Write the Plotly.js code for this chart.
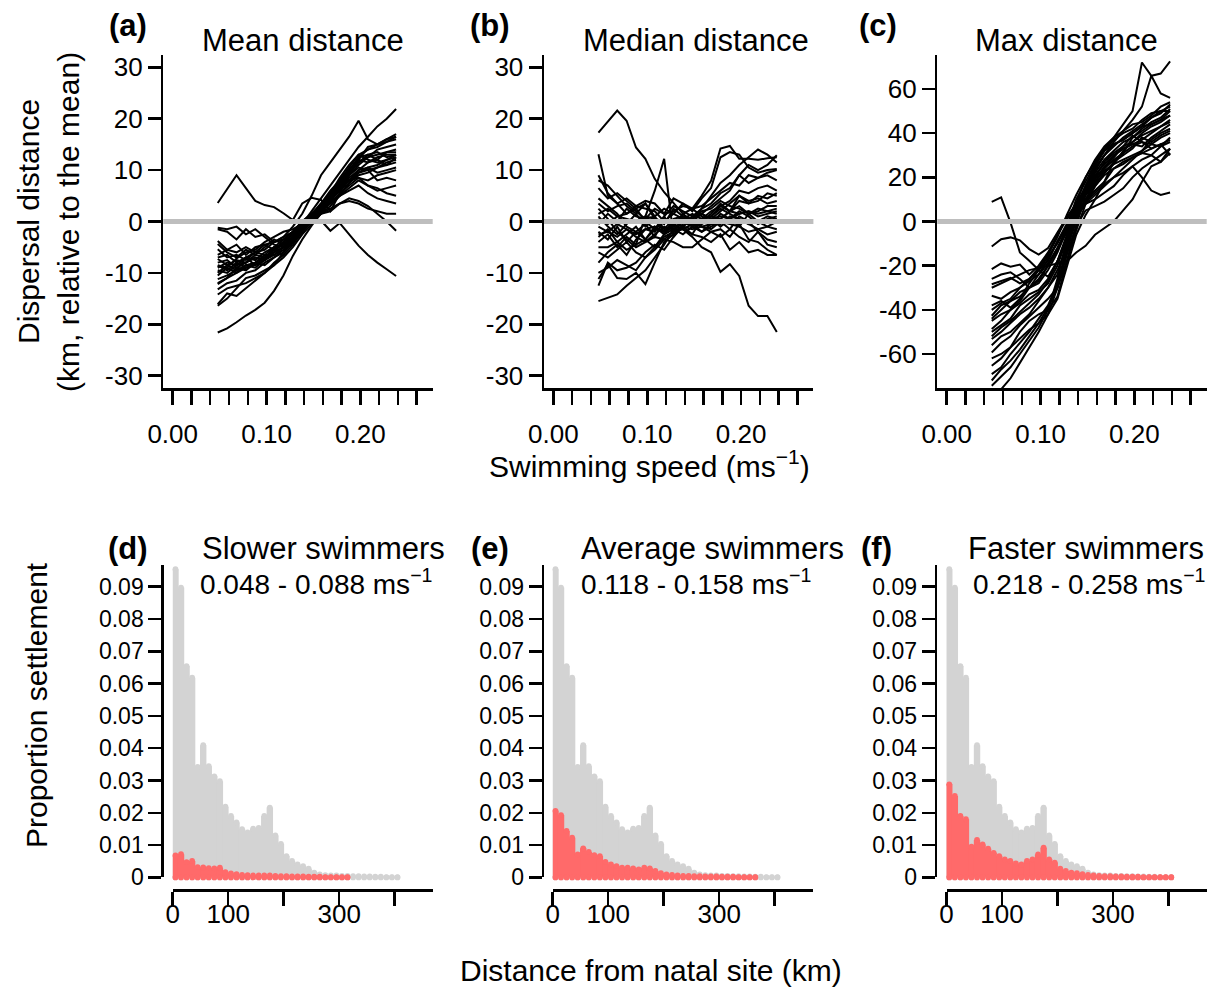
<!DOCTYPE html>
<html><head><meta charset="utf-8">
<script src="https://cdn.plot.ly/plotly-3.0.1.min.js"></script>
<style>html,body{margin:0;padding:0;background:#fff}#chart{width:1214px;height:990px}</style>
</head><body><div id="chart"></div>
<script>
// ---------- DATA ----------
const speed = [0.048,0.058,0.068,0.078,0.088,0.098,0.108,0.118,0.128,0.138,0.148,0.158,0.168,0.178,0.188,0.198,0.208,0.218,0.228,0.238];

const meanDistLines = [
 [3.6,6.2,9.0,6.5,4.0,3.2,2.8,1.6,0.3,3.5,4.6,4.2,2.0,5.5,9.0,12.5,14.0,14.5,15.5,16.5],
 [-21.6,-20.8,-19.6,-18.3,-17.2,-15.8,-13.5,-10.5,-6.7,-3.5,-0.8,1.5,4.0,6.5,8.0,9.5,10.5,11.0,12.0,13.0],
 [-8.5,-9.0,-7.2,-6.0,-5.5,-4.0,-3.0,-2.0,-1.5,-0.5,0.5,0.2,-1.8,-0.3,-2.5,-4.7,-6.5,-8.0,-9.3,-10.6],
 [-10.0,-8.5,-9.5,-7.0,-6.0,-5.5,-4.0,-3.0,-1.0,1.5,5.0,9.0,11.5,14.0,16.5,19.6,16.0,15.0,16.0,17.0],
 [-12.0,-11.0,-10.0,-9.0,-8.5,-7.0,-5.5,-4.0,-2.5,-0.5,2.0,4.5,7.0,9.5,12.0,14.5,16.5,18.5,20.0,21.9],
 [-1.2,-1.5,-1.0,-2.5,-1.5,-3.0,-4.5,-5.0,-3.5,-1.0,0.5,2.0,3.5,5.5,7.0,8.5,8.0,9.0,9.5,10.0],
 [-1.5,-2.0,-3.5,-1.5,-3.0,-2.5,-4.0,-3.5,-2.0,0.0,1.5,3.0,5.0,7.5,10.0,12.5,13.0,13.5,12.5,13.0],
 [-3.8,-5.5,-4.5,-6.5,-5.0,-4.5,-5.5,-4.0,-2.5,-0.5,1.0,2.5,4.5,6.5,8.0,10.0,11.5,12.0,11.0,12.5],
 [-4.4,-6.0,-7.0,-5.5,-6.5,-5.0,-3.5,-4.5,-3.0,-1.5,0.5,2.0,4.0,5.0,7.5,9.5,10.0,10.5,11.5,12.0],
 [-5.4,-7.0,-6.5,-7.5,-6.0,-6.5,-5.0,-3.5,-2.0,-0.5,1.0,3.5,5.5,8.0,10.5,13.0,14.0,15.0,15.5,16.0],
 [-7.0,-6.5,-8.0,-7.0,-8.5,-7.5,-6.0,-5.0,-3.5,-1.0,1.0,2.5,3.5,5.0,6.0,7.0,5.5,4.5,4.0,3.5],
 [-7.3,-8.5,-7.5,-8.0,-6.5,-7.0,-5.5,-4.5,-3.0,-1.0,0.5,1.5,2.5,3.5,4.0,3.5,2.5,2.0,1.5,1.5],
 [-8.0,-7.5,-9.0,-8.0,-7.0,-7.5,-6.0,-4.0,-2.5,-0.5,1.0,3.0,5.0,6.5,8.0,8.5,7.0,6.5,5.5,5.0],
 [-8.6,-9.5,-8.0,-9.0,-8.0,-6.5,-6.5,-5.0,-3.5,-1.5,0.5,2.5,5.0,7.0,9.5,11.5,12.5,13.0,13.5,14.0],
 [-9.0,-8.0,-8.5,-7.0,-7.5,-6.0,-5.0,-4.5,-3.0,-1.0,1.5,3.5,6.0,8.0,10.0,12.0,11.5,12.5,13.0,13.0],
 [-11.2,-10.5,-9.5,-8.5,-8.0,-7.0,-6.0,-5.0,-3.5,-1.5,0.5,2.5,4.5,6.5,9.0,10.5,10.0,8.0,8.5,8.0],
 [-12.2,-11.0,-9.0,-9.5,-8.0,-8.5,-7.0,-5.5,-3.5,-1.5,0.0,2.0,4.0,7.0,9.0,12.0,14.5,15.0,16.0,16.5],
 [-13.2,-12.0,-11.5,-10.0,-9.5,-8.0,-7.0,-6.0,-4.0,-2.0,0.5,3.0,5.5,8.5,11.0,13.0,12.0,11.5,12.0,12.5],
 [-14.2,-13.0,-12.5,-12.0,-11.0,-10.0,-8.0,-6.5,-4.5,-2.0,0.0,2.0,4.0,6.0,8.5,10.0,10.5,9.5,10.0,10.5],
 [-16.1,-14.0,-14.5,-13.0,-11.5,-10.0,-8.5,-7.0,-5.0,-2.5,-0.5,1.5,3.0,5.0,6.5,8.0,7.0,6.0,6.5,7.0],
 [-16.4,-15.0,-13.0,-11.0,-10.5,-9.5,-8.5,-6.0,-4.0,-2.0,0.0,2.5,4.5,6.0,7.5,9.0,9.5,10.5,11.0,11.5],
 [-10.5,-9.0,-10.0,-8.5,-9.0,-7.5,-6.5,-5.5,-4.0,-2.0,0.5,1.5,2.0,3.5,4.5,4.0,3.0,1.5,0.0,-1.8],
 [-6.5,-5.5,-6.0,-5.0,-6.0,-4.5,-4.0,-3.0,-2.0,0.0,1.5,3.0,4.5,6.5,9.0,11.0,12.5,14.0,14.5,15.0],
 [-9.5,-10.0,-8.5,-8.0,-7.0,-7.5,-5.0,-4.5,-3.0,-1.0,1.0,3.0,5.5,7.5,9.5,11.5,13.0,12.0,13.5,13.5]
];

const medianDistLines = [
 [17.3,19.5,21.6,19.6,14.4,12.2,8.3,5.7,3.7,1.5,0.0,-0.5,0.5,1.0,0.5,1.5,2.0,1.5,2.0,2.5],
 [-3.0,-1.5,-4.0,-2.5,-1.0,-3.5,-1.0,-2.5,-0.5,-1.5,-3.0,-5.0,-6.0,-9.8,-8.3,-10.6,-16.4,-18.4,-18.4,-21.5],
 [-4.0,-2.5,-5.0,-3.0,-4.5,1.0,6.0,12.2,-3.0,-1.0,-2.5,0.5,1.0,3.0,2.0,4.0,3.5,5.0,4.5,5.5],
 [13.1,5.0,3.5,1.5,2.5,0.0,-1.5,1.0,-2.0,0.5,-1.0,0.0,1.5,3.5,2.0,3.0,1.5,2.5,2.0,1.5],
 [-15.5,-14.8,-14.2,-12.5,-11.0,-9.5,-7.0,-4.5,-1.5,0.0,-1.0,0.5,1.0,2.5,1.5,0.5,-0.5,0.0,-1.0,-1.5],
 [-11.2,-8.3,-11.0,-11.2,-10.0,-12.2,-8.0,-4.0,-2.5,-1.0,0.5,2.5,3.5,5.5,6.5,9.0,11.0,10.0,11.0,12.9],
 [-2.0,-3.5,-1.0,-4.0,-2.0,-0.5,-3.0,0.5,-1.0,1.5,2.5,5.0,7.9,14.2,14.7,12.2,12.2,12.0,12.3,12.5],
 [-0.5,1.5,0.0,2.5,1.0,0.5,2.5,1.5,4.5,3.5,2.0,4.5,6.5,12.5,13.5,13.0,10.5,9.5,10.0,10.2],
 [3.5,2.0,3.0,3.5,2.0,0.5,1.0,-1.5,0.5,1.0,0.0,1.5,3.0,4.5,6.0,9.0,7.5,8.5,9.0,8.0],
 [6.5,4.5,5.5,4.0,2.5,3.5,1.0,2.5,1.5,0.5,1.5,0.5,2.0,3.0,4.0,6.0,5.5,6.5,7.0,6.0],
 [9.0,5.5,3.5,4.5,3.0,4.0,3.5,1.5,2.0,3.0,2.5,1.0,0.0,0.5,2.0,5.0,3.5,4.0,5.5,5.0],
 [8.0,7.0,5.0,3.0,1.5,-1.0,0.5,-0.5,2.5,1.0,0.5,-1.0,-0.5,1.5,0.5,-1.0,1.5,2.0,3.0,3.0],
 [0.5,-0.5,1.0,0.5,0.0,1.0,0.5,0.0,-0.5,0.5,0.0,0.5,1.0,0.5,2.0,1.5,2.0,1.0,1.5,2.0],
 [-2.5,-2.0,-3.0,-1.5,-2.5,-1.5,-1.0,-2.0,-1.0,-1.5,-0.5,-1.0,-1.5,0.0,-0.5,-1.0,-2.0,-1.5,-2.5,-2.0],
 [-5.0,-5.0,-4.0,-5.5,-4.5,-3.5,-5.0,-3.0,-2.0,-1.0,-1.5,-1.0,-2.0,-3.0,-1.5,1.0,0.0,-2.0,-4.5,-5.0],
 [-6.0,-7.0,-5.5,-4.0,-6.0,-7.0,-5.5,-3.5,-4.0,-5.0,-5.0,-3.5,-2.0,-1.5,-3.0,-0.5,-3.5,-4.0,-5.5,-6.5],
 [-10.0,-9.0,-7.5,-8.5,-9.5,-7.0,-5.0,-2.5,-1.5,-2.5,-1.0,-2.0,-0.5,-0.5,1.0,0.5,-0.5,-1.5,-1.0,0.0],
 [-12.5,-8.0,-9.5,-9.0,-8.0,-6.0,-4.5,-5.5,-3.0,-0.5,0.5,1.5,0.5,2.0,3.5,5.0,4.0,4.5,3.5,4.0],
 [1.5,2.5,1.0,1.5,3.0,2.5,2.0,0.0,1.5,3.5,2.5,3.0,4.5,6.0,7.5,7.0,9.0,8.5,9.5,10.0],
 [4.5,3.0,1.5,-1.0,-2.0,-3.5,-1.5,-2.0,-0.5,1.0,0.5,2.0,2.5,4.0,3.0,2.5,1.5,0.0,1.0,0.5],
 [-1.0,-2.0,-0.5,-1.5,-3.0,-4.0,-2.5,-1.0,-2.0,0.0,-0.5,-2.0,-1.0,0.0,-1.5,-3.0,-4.0,-2.0,-3.5,-4.0],
 [2.5,0.5,-2.0,-3.5,-5.0,-4.0,-3.0,-3.5,-2.0,-1.5,-2.5,-3.0,-4.0,-2.5,-5.5,-4.0,-6.0,-5.5,-6.5,-6.5],
 [-8.0,-6.0,-4.5,-6.5,-3.5,-1.5,-2.0,1.0,3.0,2.0,1.0,1.5,0.5,-1.0,0.5,2.0,1.0,-0.5,0.5,1.0],
 [1.0,-1.0,-2.5,-0.5,1.5,3.5,0.5,-2.0,0.0,-1.0,1.0,2.5,5.0,7.5,9.0,11.0,12.5,14.0,13.0,11.5]
];

const maxDistLines = [
 [8.9,10.9,-0.5,-14.0,-17.8,-22.0,-25.0,-18.0,-8.0,2.0,10.0,16.0,21.0,24.0,26.0,29.0,31.0,33.0,35.0,37.0],
 [-11.3,-8.0,-7.2,-8.5,-12.5,-15.0,-12.0,-5.0,2.0,8.0,14.0,20.0,24.0,30.0,33.0,35.0,34.0,38.0,41.0,44.0],
 [-21.6,-19.0,-20.5,-19.5,-24.0,-20.0,-14.0,-6.0,1.0,7.0,12.0,18.0,23.0,26.0,32.0,36.0,40.0,43.0,45.0,48.0],
 [-28.4,-27.0,-25.5,-28.0,-26.0,-22.0,-18.0,-9.0,-1.0,6.0,15.0,22.0,28.0,32.0,36.0,38.0,42.0,45.0,47.0,51.0],
 [-33.6,-35.0,-32.0,-30.0,-27.0,-24.0,-19.0,-12.0,-3.0,5.0,12.0,17.0,22.0,27.0,30.0,33.0,38.0,36.0,39.0,41.0],
 [-42.7,-38.0,-36.0,-34.0,-30.0,-28.0,-22.0,-14.0,-4.0,4.0,10.0,14.0,18.0,24.0,27.0,29.0,31.0,30.0,34.0,36.0],
 [-48.7,-45.0,-40.0,-37.0,-33.0,-31.0,-26.0,-18.0,-7.0,3.0,9.0,13.0,17.0,20.0,24.0,28.0,32.0,35.0,34.0,38.0],
 [-53.2,-50.0,-46.0,-42.0,-39.0,-35.0,-30.0,-24.0,-10.0,2.0,8.0,10.0,13.0,16.0,21.0,25.0,28.0,30.0,27.0,31.0],
 [-59.3,-55.0,-52.0,-47.0,-43.0,-39.0,-35.0,-30.0,-15.0,-2.0,5.0,7.0,9.0,12.0,15.0,20.0,24.0,27.0,30.0,33.0],
 [-65.3,-62.0,-57.0,-53.0,-49.0,-46.0,-42.0,-35.0,-20.0,-6.0,3.0,10.0,18.0,27.0,31.0,38.0,41.0,44.0,46.0,50.0],
 [-69.1,-66.0,-60.0,-55.0,-50.0,-44.0,-38.0,-28.0,-12.0,4.0,16.0,25.0,32.0,37.0,40.0,42.0,46.0,49.0,50.0,52.0],
 [-74.4,-70.0,-66.0,-60.0,-54.0,-48.0,-40.0,-26.0,-8.0,8.0,20.0,28.0,34.0,38.0,41.0,44.0,45.0,48.0,52.0,54.0],
 [-80.0,-76.0,-71.0,-64.0,-57.0,-50.0,-42.0,-30.0,-14.0,2.0,14.0,23.0,30.0,35.0,37.0,40.0,43.0,47.0,49.0,53.0],
 [-40.0,-37.0,-35.0,-30.0,-26.0,-21.0,-15.0,-7.0,3.0,12.0,20.0,27.0,33.0,38.0,44.0,50.0,72.0,66.0,67.0,72.5],
 [-52.0,-48.0,-45.0,-41.0,-37.0,-33.0,-27.0,-18.0,-6.0,6.0,16.0,24.0,30.0,36.0,41.0,46.0,52.0,66.0,58.0,56.0],
 [-45.0,-42.0,-40.0,-36.0,-30.0,-24.0,-17.0,-9.0,-3.0,3.0,8.0,12.0,16.0,20.0,22.0,25.0,20.0,14.0,12.0,13.1],
 [-30.0,-28.0,-26.0,-24.0,-22.0,-21.0,-20.0,-19.0,-18.0,-14.0,-11.0,-6.0,-3.0,0.0,5.0,10.0,18.0,25.0,27.0,33.0],
 [-50.0,-47.0,-44.0,-38.0,-35.0,-32.0,-28.0,-20.0,-8.0,5.0,14.0,21.0,26.0,30.0,33.0,35.0,37.0,40.0,43.0,46.0],
 [-56.0,-52.0,-50.0,-46.0,-42.0,-36.0,-30.0,-22.0,-12.0,0.0,10.0,18.0,24.0,28.0,31.0,34.0,36.0,35.0,38.0,40.0],
 [-62.0,-60.0,-57.0,-50.0,-45.0,-42.0,-40.0,-34.0,-18.0,-4.0,8.0,16.0,22.0,26.0,28.0,30.0,32.0,37.0,40.0,42.0],
 [-38.0,-36.0,-39.0,-35.0,-28.0,-22.0,-16.0,-10.0,-2.0,10.0,18.0,26.0,32.0,35.0,37.0,40.0,43.0,44.0,46.0,48.0],
 [-44.0,-40.0,-36.0,-32.0,-30.0,-27.0,-20.0,-12.0,-5.0,4.0,13.0,19.0,25.0,29.0,34.0,39.0,36.0,33.0,35.0,30.0],
 [-26.0,-24.0,-23.0,-26.0,-30.0,-26.0,-20.0,-13.0,-3.0,8.0,16.0,24.0,30.0,34.0,38.0,41.0,44.0,47.0,50.0,50.0],
 [-72.0,-67.0,-63.0,-58.0,-52.0,-46.0,-39.0,-30.0,-18.0,-2.0,12.0,20.0,27.0,31.0,34.0,36.0,39.0,41.0,43.0,45.0]
];

const distKm = [5,15,25,35,45,55,65,75,85,95,105,115,125,135,145,155,165,175,185,195,205,215,225,235,245,255,265,275,285,295,305,315,325,335,345,355,365,375,385,395,405];
const allSettle = [0.0954,0.0897,0.0654,0.0618,0.0342,0.0409,0.0344,0.0313,0.0298,0.0219,0.0190,0.0170,0.0149,0.0139,0.0151,0.0153,0.0190,0.0216,0.0130,0.0104,0.0066,0.0051,0.0040,0.0035,0.0027,0.0015,0.0009,0.0007,0.0006,0.0006,0.0005,0.0005,0.0004,0.0004,0.0003,0.0003,0.0002,0.0002,0.0001,0.0001,0.0001];
const slowSettle = [0.0068,0.0072,0.0047,0.0051,0.0032,0.0031,0.0029,0.0028,0.0030,0.0016,0.0012,0.0010,0.0008,0.0007,0.0006,0.0006,0.0006,0.0006,0.0005,0.0004,0.0004,0.0003,0.0003,0.0003,0.0002,0.0002,0.0002,0.0001,0.0001,0.0001,0.0001,0.0001];
const avgSettle = [0.0206,0.0193,0.0144,0.0123,0.0071,0.0090,0.0079,0.0069,0.0066,0.0048,0.0040,0.0035,0.0030,0.0030,0.0028,0.0025,0.0030,0.0028,0.0020,0.0013,0.0009,0.0008,0.0006,0.0005,0.0005,0.0004,0.0004,0.0003,0.0003,0.0003,0.0002,0.0002,0.0002,0.0001,0.0001,0.0001,0.0001];
const fastSettle = [0.0288,0.0252,0.0190,0.0180,0.0095,0.0116,0.0102,0.0089,0.0076,0.0066,0.0056,0.0051,0.0043,0.0040,0.0051,0.0056,0.0071,0.0092,0.0056,0.0046,0.0027,0.0020,0.0015,0.0013,0.0010,0.0008,0.0006,0.0005,0.0004,0.0004,0.0003,0.0003,0.0002,0.0002,0.0002,0.0001,0.0001,0.0001,0.0001,0.0001,0.0001];

const speedTicks = [0,0.02,0.04,0.06,0.08,0.10,0.12,0.14,0.16,0.18,0.20,0.22,0.24,0.26];
const speedTickText = ['0.00','','','','','0.10','','','','','0.20','','',''];
const relTicks = [-30,-20,-10,0,10,20,30];
const relTickText = ['-30','-20','-10','0','10','20','30'];
const maxTicks = [-60,-40,-20,0,20,40,60];
const maxTickText = ['-60','-40','-20','0','20','40','60'];
const propTicks = [0,0.01,0.02,0.03,0.04,0.05,0.06,0.07,0.08,0.09];
const propTickText = ['0','0.01','0.02','0.03','0.04','0.05','0.06','0.07','0.08','0.09'];
const kmTicks = [0,100,200,300,400];
const kmTickText = ['0','100','','300',''];

// ---------- BUILD ----------
const W = 1214, H = 990;
const fx = p => p / W;
const fy = p => 1 - p / H;
const FONT = 'Liberation Sans, Arial, Helvetica, sans-serif';
const GREY = '#D3D3D3', RED = '#FF6A6A';

const traces = [];
function addLines(lines, xa, ya) {
  lines.forEach(l => traces.push({type:'scatter', mode:'lines', x:speed, y:l, xaxis:xa, yaxis:ya,
    line:{color:'#000', width:2}, hoverinfo:'skip', showlegend:false}));
}
addLines(meanDistLines, 'x', 'y');
addLines(medianDistLines, 'x2', 'y2');
addLines(maxDistLines, 'x3', 'y3');

function addBars(vals, xa, ya, color) {
  const x = [], y = [];
  vals.forEach((v, i) => { x.push(distKm[i], distKm[i], null); y.push(0, v, null); });
  traces.push({type:'scatter', mode:'lines+markers', x, y, xaxis:xa, yaxis:ya,
    line:{color, width:6.4}, marker:{color, size:5.8}, cliponaxis:false, connectgaps:false,
    hoverinfo:'skip', showlegend:false});
}
addBars(allSettle, 'x4', 'y4', GREY); addBars(slowSettle, 'x4', 'y4', RED);
addBars(allSettle, 'x5', 'y5', GREY); addBars(avgSettle, 'x5', 'y5', RED);
addBars(allSettle, 'x6', 'y6', GREY); addBars(fastSettle, 'x6', 'y6', RED);

const axCommon = {showline:true, linewidth:2.5, linecolor:'#000', ticks:'outside', ticklen:14,
  tickwidth:2.5, tickcolor:'#000', tickmode:'array', showgrid:false, zeroline:false, fixedrange:true,
  tickfont:{family:FONT, size:26, color:'#000'}};

const topDomY = [fy(388), fy(55)];
function topX(x0, anchor) {
  return Object.assign({}, axCommon, {domain:[fx(x0), fx(x0 + 269.4)], range:[-0.0100, 0.2770],
    anchor, tickvals:speedTicks, ticktext:speedTickText, ticklabelstandoff:7});
}
function topY(anchor, vals, text, r) {
  return Object.assign({}, axCommon, {domain:topDomY, range:[-r, r], anchor, tickvals:vals, ticktext:text, ticklen:13});
}
const botDomY = [fy(877.4), fy(565)];
function botX(x0) {
  return Object.assign({}, axCommon, {domain:[fx(x0), fx(x0 + 260)], range:[0, 468.5],
    anchor:'free', position:fy(890), tickvals:kmTicks, ticktext:kmTickText, ticklabelstandoff:-14});
}
function botY(xpos) {
  return Object.assign({}, axCommon, {domain:botDomY, range:[0, 0.0967], anchor:'free',
    position:fx(xpos), tickvals:propTicks, ticktext:propTickText, ticklen:13,
    tickfont:{family:FONT, size:23, color:'#000'}});
}

function ann(text, x, y, size, opts) {
  return Object.assign({text, xref:'paper', yref:'paper', x:fx(x), y:fy(y), xanchor:'center', yanchor:'middle',
    showarrow:false, font:{family:FONT, size, color:'#000'}}, opts || {});
}
const TS = 30, LS = 31;
const annotations = [
  ann('<b>(a)</b>', 128, 25, LS), ann('<b>(b)</b>', 490, 25, LS), ann('<b>(c)</b>', 878, 25, LS),
  ann('Mean distance', 303, 40, 31), ann('Median distance', 696, 40, 31), ann('Max distance', 1066, 40, 31),
  ann('<b>(d)</b>', 128, 548, LS), ann('<b>(e)</b>', 490, 548, LS), ann('<b>(f)</b>', 876, 548, LS),
  ann('Slower swimmers', 323, 548, 31), ann('Average swimmers', 712, 548, 31), ann('Faster swimmers', 1086, 548, 31),
  ann('0.048 - 0.088 ms<sup>−1</sup>', 316, 582, 28), ann('0.118 - 0.158 ms<sup>−1</sup>', 696, 582, 28),
  ann('0.218 - 0.258 ms<sup>−1</sup>', 1089, 582, 28),
  ann('Dispersal distance', 28, 222, TS, {textangle:-90}),
  ann('(km, relative to the mean)', 68, 222, TS, {textangle:-90}),
  ann('Swimming speed (ms<sup>−1</sup>)', 650, 464, TS),
  ann('Proportion settlement', 36, 705, TS, {textangle:-90}),
  ann('Distance from natal site (km)', 651, 970, TS)
];

const zeroLine = (xa, ya) => ({type:'line', xref:xa + ' domain', yref:ya, x0:0, x1:1, y0:0, y1:0,
  line:{color:'#BEBEBE', width:5}, layer:'above'});

const layout = {
  width:W, height:H, autosize:false, margin:{l:0, r:0, t:0, b:0},
  paper_bgcolor:'#fff', plot_bgcolor:'#fff', showlegend:false,
  font:{family:FONT, color:'#000'},
  xaxis:topX(163.3, 'y'), yaxis:topY('x', relTicks, relTickText, 32.4),
  xaxis2:topX(544, 'y2'), yaxis2:topY('x2', relTicks, relTickText, 32.4),
  xaxis3:topX(937.3, 'y3'), yaxis3:topY('x3', maxTicks, maxTickText, 75.4),
  xaxis4:botX(172.7), yaxis4:botY(162.3),
  xaxis5:botX(552.7), yaxis5:botY(542.7),
  xaxis6:botX(946.5), yaxis6:botY(935.7),
  shapes:[zeroLine('x','y'), zeroLine('x2','y2'), zeroLine('x3','y3')],
  annotations
};
Plotly.newPlot('chart', traces, layout, {staticPlot:true, displayModeBar:false});
</script></body></html>
